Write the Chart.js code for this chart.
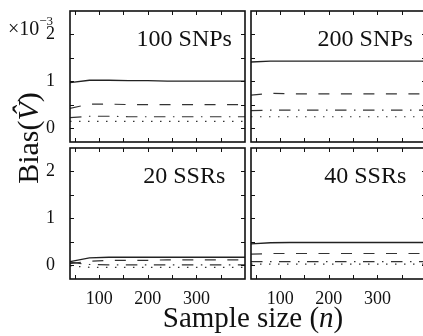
<!DOCTYPE html>
<html><head><meta charset="utf-8">
<script src="https://cdn.jsdelivr.net/npm/chart.js@4/dist/chart.umd.min.js"></script>
<style>
html,body{margin:0;padding:0;background:#fff;overflow:hidden;width:423px;height:336px;position:relative;}
canvas{position:absolute;left:0;top:0;}
</style></head><body>
<canvas id="p1"></canvas><canvas id="p2"></canvas><canvas id="p3"></canvas><canvas id="p4"></canvas>
<script>
// ---- data (bias values in units of 1e-3) ----
const sampleSizes = [40, 80, 120, 160, 200, 240, 280, 320, 360, 400];
const xTickMarks = [50, 100, 150, 200, 250, 300, 350];
const xTickLabels = [100, 200, 300];
const yTickMarks = [0, 0.5, 1, 1.5, 2];
const yTickLabels = [0, 1, 2];
const panelTitles = ['100 SNPs', '200 SNPs', '20 SSRs', '40 SSRs'];

const snp100Solid   = [0.97, 1.02, 1.02, 1.01, 1.01, 1.00, 1.00, 1.00, 1.00, 1.00];
const snp100Dashed  = [0.42, 0.51, 0.51, 0.50, 0.50, 0.50, 0.50, 0.50, 0.50, 0.50];
const snp100DashDot = [0.22, 0.25, 0.25, 0.24, 0.24, 0.24, 0.24, 0.24, 0.24, 0.24];
const snp100Dotted  = [0.14, 0.14, 0.14, 0.14, 0.14, 0.14, 0.14, 0.14, 0.14, 0.14];

const snp200Solid   = [1.41, 1.43, 1.43, 1.43, 1.43, 1.43, 1.43, 1.43, 1.43, 1.43];
const snp200Dashed  = [0.70, 0.74, 0.73, 0.73, 0.73, 0.73, 0.73, 0.73, 0.73, 0.73];
const snp200DashDot = [0.37, 0.38, 0.38, 0.38, 0.38, 0.38, 0.38, 0.38, 0.38, 0.38];
const snp200Dotted  = [0.24, 0.24, 0.24, 0.24, 0.24, 0.24, 0.24, 0.24, 0.24, 0.24];

const ssr20Solid   = [0.07, 0.15, 0.165, 0.165, 0.165, 0.165, 0.165, 0.165, 0.165, 0.165];
const ssr20Dashed  = [0.03, 0.08, 0.10, 0.10, 0.10, 0.11, 0.11, 0.11, 0.11, 0.11];
const ssr20DashDot = [0.06, 0.01, 0.00, 0.00, 0.00, 0.00, 0.00, 0.00, 0.00, 0.00];
const ssr20Dotted  = [-0.02, -0.05, -0.05, -0.05, -0.05, -0.05, -0.05, -0.05, -0.05, -0.05];

const ssr40Solid   = [0.45, 0.475, 0.48, 0.48, 0.48, 0.48, 0.48, 0.48, 0.48, 0.48];
const ssr40Dashed  = [0.23, 0.245, 0.245, 0.245, 0.245, 0.245, 0.245, 0.245, 0.245, 0.245];
const ssr40DashDot = [0.07, 0.07, 0.07, 0.07, 0.07, 0.07, 0.07, 0.07, 0.07, 0.07];
const ssr40Dotted  = [0.02, 0.02, 0.02, 0.02, 0.02, 0.02, 0.02, 0.02, 0.02, 0.02];

// ---- rendering ----
const SERIF = '"Liberation Serif", "Times New Roman", serif';
Chart.defaults.font.family = SERIF;
Chart.defaults.color = '#222';

const lineStyles = [
  {dash: [], color: '#222', width: 1.3},
  {dash: [11, 11.5], color: '#333', width: 1.2},
  {dash: [11.5, 7.5, 1.5, 7.5], color: '#333', width: 1.2},
  {dash: [1.5, 7.5], color: '#333', width: 1.2}
];

const framePlugin = {
  id: 'frame',
  afterDatasetsDraw(chart, args, opts) {
    const {ctx, chartArea: a, scales} = chart;
    const x = scales.x, y = scales.y;
    ctx.save();
    ctx.strokeStyle = '#111';
    ctx.lineWidth = 1;
    const tl = 4;
    ctx.beginPath();
    xTickMarks.forEach(v => {
      const px = Math.round(x.getPixelForValue(v)) + 0.5;
      ctx.moveTo(px, a.top); ctx.lineTo(px, a.top + tl);
      ctx.moveTo(px, a.bottom); ctx.lineTo(px, a.bottom - tl);
    });
    yTickMarks.forEach(v => {
      const py = Math.round(y.getPixelForValue(v)) + 0.5;
      ctx.moveTo(a.left, py); ctx.lineTo(a.left + tl, py);
      ctx.moveTo(a.right, py); ctx.lineTo(a.right - tl, py);
    });
    ctx.stroke();
    ctx.lineWidth = 1.6;
    ctx.strokeRect(a.left, a.top, a.right - a.left, a.bottom - a.top);
    // panel title
    ctx.fillStyle = '#111';
    ctx.font = '24px ' + SERIF;
    ctx.textAlign = 'center';
    ctx.textBaseline = 'alphabetic';
    ctx.fillText(opts.title, x.getPixelForValue(275), y.getPixelForValue(1.76));
    ctx.restore();
  }
};

function drawParts(ctx, parts, cx, baseline) {
  let total = 0;
  parts.forEach(p => { ctx.font = p[1]; total += ctx.measureText(p[0]).width; });
  let xx = cx - total / 2;
  ctx.textAlign = 'left';
  parts.forEach(p => { ctx.font = p[1]; ctx.fillText(p[0], xx, baseline); xx += ctx.measureText(p[0]).width; });
}

const labelsPlugin = {
  id: 'labels',
  afterDraw(chart) {
    const ctx = chart.ctx;
    ctx.save();
    ctx.fillStyle = '#111';
    ctx.textBaseline = 'alphabetic';
    // multiplier
    ctx.font = '20px ' + SERIF;
    ctx.textAlign = 'left';
    ctx.fillText('\u00d710', 8, 35);
    const w = ctx.measureText('\u00d710').width;
    ctx.font = '13px ' + SERIF;
    ctx.fillText('\u22123', 8 + w, 25);
    // x title
    drawParts(ctx, [['Sample size (', '29px ' + SERIF], ['n', 'italic 29px ' + SERIF], [')', '29px ' + SERIF]], 253, 327);
    // y title
    ctx.translate(38, 138);
    ctx.rotate(-Math.PI / 2);
    drawParts(ctx, [['Bias(', '30px ' + SERIF], ['V\u0302', 'italic 30px ' + SERIF], [')', '30px ' + SERIF]], 0, 0);
    ctx.restore();
  }
};

const H = 336;
function makePanel(id, title, series, g, extraPlugins) {
  const canvas = document.getElementById(id);
  canvas.width = g.canvasW; canvas.height = H;
  canvas.style.width = g.canvasW + 'px'; canvas.style.height = H + 'px';
  const yW = 40, xH = 30;
  const datasets = series.map((d, i) => ({
    data: d.map((v, k) => ({x: sampleSizes[k], y: v})),
    borderColor: lineStyles[i].color,
    borderWidth: lineStyles[i].width,
    borderDash: lineStyles[i].dash,
    pointRadius: 0,
    tension: 0,
    fill: false
  }));
  return new Chart(canvas, {
    type: 'line',
    data: {labels: sampleSizes, datasets: datasets},
    options: {
      responsive: false,
      devicePixelRatio: 1,
      animation: false,
      events: [],
      layout: {padding: {
        left: g.showY ? g.left - yW : g.left,
        top: g.top,
        right: g.canvasW - g.right,
        bottom: g.showX ? H - g.bottom - xH : H - g.bottom
      }},
      plugins: {legend: {display: false}, tooltip: {enabled: false}, frame: {title: title}},
      scales: {
        x: {
          type: 'linear', min: 40, max: 400, display: g.showX,
          grid: {display: false}, border: {display: false},
          ticks: {font: {size: 18}, color: '#111', padding: 1, maxRotation: 0, autoSkip: false},
          afterBuildTicks: s => { s.ticks = xTickLabels.map(v => ({value: v})); },
          afterFit: s => { if (g.showX) { s.height = xH; } s.paddingLeft = 0; s.paddingRight = 0; s.paddingTop = 0; s.paddingBottom = 0; }
        },
        y: {
          type: 'linear', min: -0.3, max: 2.5, display: g.showY,
          grid: {display: false}, border: {display: false},
          ticks: {font: {size: 18}, color: '#111', padding: 7, autoSkip: false},
          afterBuildTicks: s => { s.ticks = yTickLabels.map(v => ({value: v})); },
          afterFit: s => { if (g.showY) { s.width = yW; } s.paddingLeft = 0; s.paddingRight = 0; s.paddingTop = 0; s.paddingBottom = 0; }
        }
      }
    },
    plugins: [framePlugin].concat(extraPlugins || [])
  });
}

makePanel('p1', panelTitles[0], [snp100Solid, snp100Dashed, snp100DashDot, snp100Dotted],
  {canvasW: 423, left: 70, right: 245, top: 11, bottom: 142, showX: false, showY: true}, [labelsPlugin]);
makePanel('p2', panelTitles[1], [snp200Solid, snp200Dashed, snp200DashDot, snp200Dotted],
  {canvasW: 430, left: 251, right: 426, top: 11, bottom: 142, showX: false, showY: false});
makePanel('p3', panelTitles[2], [ssr20Solid, ssr20Dashed, ssr20DashDot, ssr20Dotted],
  {canvasW: 423, left: 70, right: 245, top: 148, bottom: 279, showX: true, showY: true});
makePanel('p4', panelTitles[3], [ssr40Solid, ssr40Dashed, ssr40DashDot, ssr40Dotted],
  {canvasW: 430, left: 251, right: 426, top: 148, bottom: 279, showX: true, showY: false});
</script>
</body></html>
